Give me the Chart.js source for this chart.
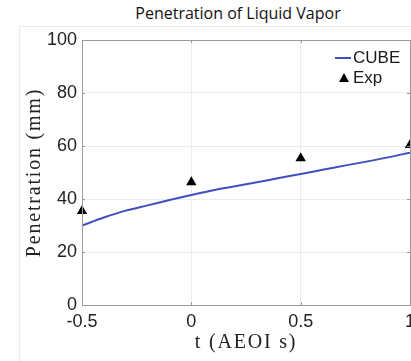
<!DOCTYPE html>
<html>
<head>
<meta charset="utf-8">
<script src="https://cdn.jsdelivr.net/npm/chart.js@4/dist/chart.umd.min.js"></script>
<style>
  html, body { margin: 0; padding: 0; background: #fff; overflow: hidden; width: 411px; height: 361px; }
  #wrap { position: relative; width: 411px; height: 361px; overflow: hidden; }
  #frame { position: absolute; left: 19px; top: 26px; width: 420px; height: 360px;
           border-left: 1px solid #ebebeb; border-top: 1px solid #ebebeb; }
  #title { position: absolute; left: 0; width: 476px; top: 2px; text-align: center;
           font-family: "Open Sans", sans-serif; font-size: 16px; color: #111; }
  canvas { position: absolute; left: 0; top: 0; }
</style>
</head>
<body>
<div id="wrap">
  <div id="frame"></div>
  <div id="title">Penetration of Liquid Vapor</div>
  <canvas id="c" width="430" height="361"></canvas>
</div>
<script>
// CUBE simulation curve
const cubeT = [-0.5, -0.4, -0.3, -0.2, -0.1, 0, 0.1, 0.2, 0.3, 0.4, 0.5, 0.6, 0.7, 0.8, 0.9, 1.0];
const cubePen = [30, 33, 35.6, 37.6, 39.6, 41.5, 43.3, 44.8, 46.3, 47.9, 49.4, 51, 52.6, 54.1, 55.7, 57.5];

// experimental points
const expT = [-0.5, 0, 0.5, 1];
const expPen = [35.5, 46.3, 55.4, 60.4];

const xTicks = [-0.5, 0, 0.5, 1];
const yTicks = [0, 20, 40, 60, 80, 100];

const xLabel = 't (AEOI s)';
const yLabel = 'Penetration (mm)';

const tickFont = { family: '"Liberation Sans", Arial, sans-serif', size: 18 };
const serifFont = '20px "Liberation Serif", "Times New Roman", serif';

const boxPlugin = {
  id: 'box',
  afterDatasetsDraw(chart) {
    const { ctx, chartArea: a, scales } = chart;
    ctx.save();
    ctx.strokeStyle = '#9a9a9a';
    ctx.lineWidth = 1;
    ctx.strokeRect(a.left + 0.5, a.top + 0.5, a.right - a.left, a.bottom - a.top);
    // inward tick marks
    ctx.beginPath();
    xTicks.forEach(v => {
      const px = Math.round(scales.x.getPixelForValue(v)) + 0.5;
      ctx.moveTo(px, a.bottom); ctx.lineTo(px, a.bottom - 3);
      ctx.moveTo(px, a.top); ctx.lineTo(px, a.top + 3);
    });
    yTicks.forEach(v => {
      const py = Math.round(scales.y.getPixelForValue(v)) + 0.5;
      ctx.moveTo(a.left, py); ctx.lineTo(a.left + 3, py);
      ctx.moveTo(a.right, py); ctx.lineTo(a.right - 3, py);
    });
    ctx.stroke();
    ctx.restore();
  }
};

// axis titles drawn by hand so the serif can be spaced out like the LaTeX labels
const axisTitles = {
  id: 'axisTitles',
  afterDraw(chart) {
    const { ctx, chartArea: a } = chart;
    ctx.save();
    ctx.font = serifFont;
    ctx.fillStyle = '#222';
    ctx.textAlign = 'center';
    ctx.textBaseline = 'alphabetic';
    if ('letterSpacing' in ctx) ctx.letterSpacing = '1.8px';
    ctx.fillText(xLabel, (a.left + a.right) / 2, 348);
    ctx.translate(40, (a.top + a.bottom) / 2);
    ctx.rotate(-Math.PI / 2);
    ctx.fillText(yLabel, 0, 0);
    ctx.restore();
  }
};

const legendPlugin = {
  id: 'innerLegend',
  afterDraw(chart) {
    const { ctx, chartArea: a } = chart;
    const x0 = a.right - 75, y0 = a.top + 18;
    ctx.save();
    ctx.font = '17px "Liberation Sans", Arial, sans-serif';
    ctx.textBaseline = 'middle';
    ctx.fillStyle = '#1a1a1a';
    ctx.strokeStyle = chart.data.datasets[0].borderColor;
    ctx.lineWidth = 2;
    ctx.beginPath(); ctx.moveTo(x0, y0); ctx.lineTo(x0 + 16, y0); ctx.stroke();
    ctx.fillText(chart.data.datasets[0].label, x0 + 18, y0);
    const ty = y0 + 20, tx = x0 + 9;
    ctx.fillStyle = '#000';
    ctx.beginPath(); ctx.moveTo(tx, ty - 5); ctx.lineTo(tx + 5, ty + 4); ctx.lineTo(tx - 5, ty + 4); ctx.closePath(); ctx.fill();
    ctx.fillStyle = '#1a1a1a';
    ctx.fillText(chart.data.datasets[1].label, x0 + 18, ty);
    ctx.restore();
  }
};

new Chart(document.getElementById('c'), {
  type: 'scatter',
  data: {
    datasets: [
      {
        type: 'line', label: 'CUBE',
        data: cubeT.map((t, i) => ({ x: t, y: cubePen[i] })),
        borderColor: '#3f4fc0', borderWidth: 2, pointRadius: 0, tension: 0.3, fill: false
      },
      {
        label: 'Exp',
        data: expT.map((t, i) => ({ x: t, y: expPen[i] })),
        pointStyle: 'triangle', pointRadius: 6, backgroundColor: '#000', borderColor: '#000',
        borderWidth: 0, clip: false
      }
    ]
  },
  options: {
    responsive: false, animation: false,
    layout: { padding: { top: 40, right: 20, left: 0, bottom: 0 } },
    plugins: { legend: { display: false }, tooltip: { enabled: false } },
    scales: {
      x: {
        type: 'linear', min: -0.5, max: 1,
        afterBuildTicks: s => { s.ticks = xTicks.map(v => ({ value: v })); },
        afterFit: s => { s.height = 56; },
        grid: { color: '#ececec', drawTicks: false },
        border: { display: false },
        ticks: { font: tickFont, color: '#222', padding: 6, maxRotation: 0, callback: v => String(v) }
      },
      y: {
        min: 0, max: 100,
        afterBuildTicks: s => { s.ticks = yTicks.map(v => ({ value: v })); },
        afterFit: s => { s.width = 82; },
        grid: { color: '#ececec', drawTicks: false },
        border: { display: false },
        ticks: { font: tickFont, color: '#222', padding: 5 }
      }
    }
  },
  plugins: [boxPlugin, axisTitles, legendPlugin]
});
</script>
</body>
</html>
